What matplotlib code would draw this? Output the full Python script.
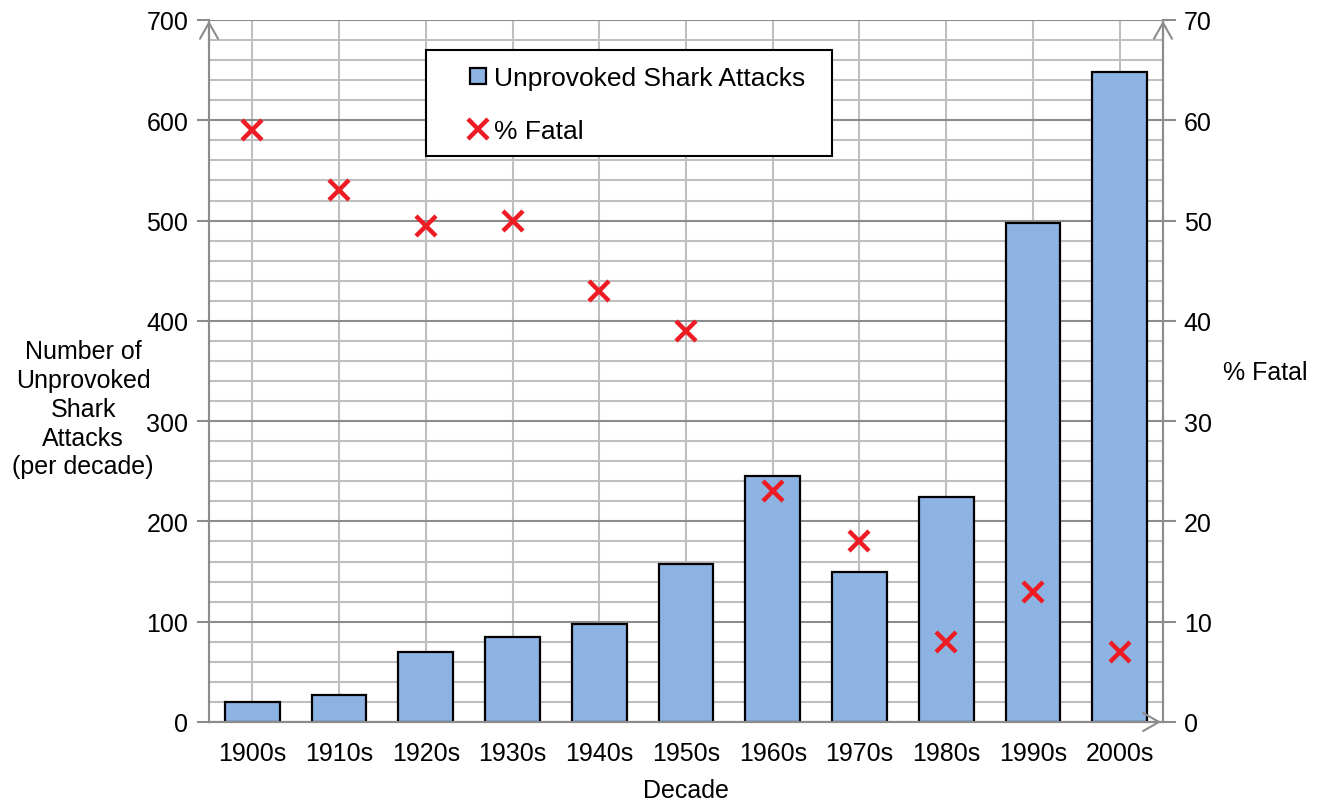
import matplotlib.pyplot as plt
from matplotlib.ticker import MultipleLocator
from matplotlib.patches import Rectangle

plt.rcParams['font.family'] = ['Liberation Sans', 'DejaVu Sans']

decades = ["1900s", "1910s", "1920s", "1930s", "1940s", "1950s",
           "1960s", "1970s", "1980s", "1990s", "2000s"]
attacks = [20, 27, 70, 85, 98, 158, 245, 150, 224, 498, 648]
pct_fatal = [59, 53, 49.5, 50, 43, 39, 23, 18, 8, 13, 7]

GRAY = "#8c8c8c"
LIGHT = "#bfbfbf"
BAR = "#8db3e2"
RED = "#ed1c24"
FS = 18

W, H = 1322, 804
fig = plt.figure(figsize=(W / 100, H / 100), dpi=100)
ax = fig.add_axes([209/W, 1 - 723/H, (1163-209)/W, (723-21)/H])
ax2 = ax.twinx()

x = list(range(len(decades)))
bars = ax.bar(x, attacks, width=0.63, color=BAR, edgecolor="black", linewidth=1.6,
              zorder=3, label="Unprovoked Shark Attacks")
ax.set_xlim(-0.5, len(decades) - 0.5)
ax.set_ylim(0, 700)
ax.yaxis.set_major_locator(MultipleLocator(100))
ax.yaxis.set_minor_locator(MultipleLocator(20))
ax.set_axisbelow(True)
ax.grid(which="minor", axis="y", color=LIGHT, lw=1.5)
ax.grid(which="major", axis="y", color=GRAY, lw=1.5)
ax.grid(which="major", axis="x", color=LIGHT, lw=1.5)
ax.set_xticks(x)
ax.set_xticklabels(decades)
ax.tick_params(axis="x", length=0, pad=14, labelsize=FS)
ax.tick_params(axis="y", which="major", length=9, width=1.5, color=GRAY, labelsize=FS, pad=6)
ax.tick_params(axis="y", which="minor", length=0)

sc, = ax2.plot(x, pct_fatal, linestyle="none", marker="x", color=RED,
               markersize=14, markeredgewidth=3.2, label="% Fatal", zorder=5)
ax2.set_ylim(0, 70)
ax2.yaxis.set_major_locator(MultipleLocator(10))
ax2.tick_params(axis="y", length=9, width=1.5, color=GRAY, labelsize=FS, pad=6)

for a in (ax, ax2):
    a.spines["top"].set_visible(False)
    for s in ("left", "right", "bottom"):
        a.spines[s].set_color(GRAY)
        a.spines[s].set_linewidth(1.5)

ax.set_xlabel("Decade", fontsize=FS, labelpad=9)
ax.set_ylabel("Number of\nUnprovoked\nShark\nAttacks\n(per decade)", fontsize=FS,
              rotation=0, ha="center", va="center", labelpad=0, linespacing=1.25)
ax.yaxis.set_label_coords(-0.132, 0.446)
ax2.set_ylabel("% Fatal", fontsize=FS, rotation=0, ha="center", va="center")
ax2.yaxis.set_label_coords(1.107, 0.499)

# open arrow heads at the axis ends
arrow = dict(arrowstyle="->,head_length=1.15,head_width=0.65", color=GRAY, lw=1.5)
ax.annotate("", xy=(0, 1.003), xytext=(0, 0.96), xycoords="axes fraction", arrowprops=arrow)
ax.annotate("", xy=(1, 1.003), xytext=(1, 0.96), xycoords="axes fraction", arrowprops=arrow)
ax.annotate("", xy=(1.001, 0), xytext=(0.96, 0), xycoords="axes fraction", arrowprops=arrow)

# legend box drawn separately so the padding matches
box = Rectangle((426/W, 1 - 157/H), (832-426)/W, (157-51)/H, transform=fig.transFigure,
                facecolor="white", edgecolor="black", lw=1.5, zorder=9, clip_on=False)
ax2.add_artist(box)
leg = ax2.legend([bars, sc], ["Unprovoked Shark Attacks", "% Fatal"],
                 loc="upper left", bbox_to_anchor=(465/W, 1 - 62/H),
                 bbox_transform=fig.transFigure, fontsize=19, frameon=False,
                 handlelength=0.6, handleheight=0.6, handletextpad=0.3,
                 borderpad=0.2, labelspacing=1.1, borderaxespad=0)
leg.set_zorder(10)

fig.savefig("out.png", dpi=100)
